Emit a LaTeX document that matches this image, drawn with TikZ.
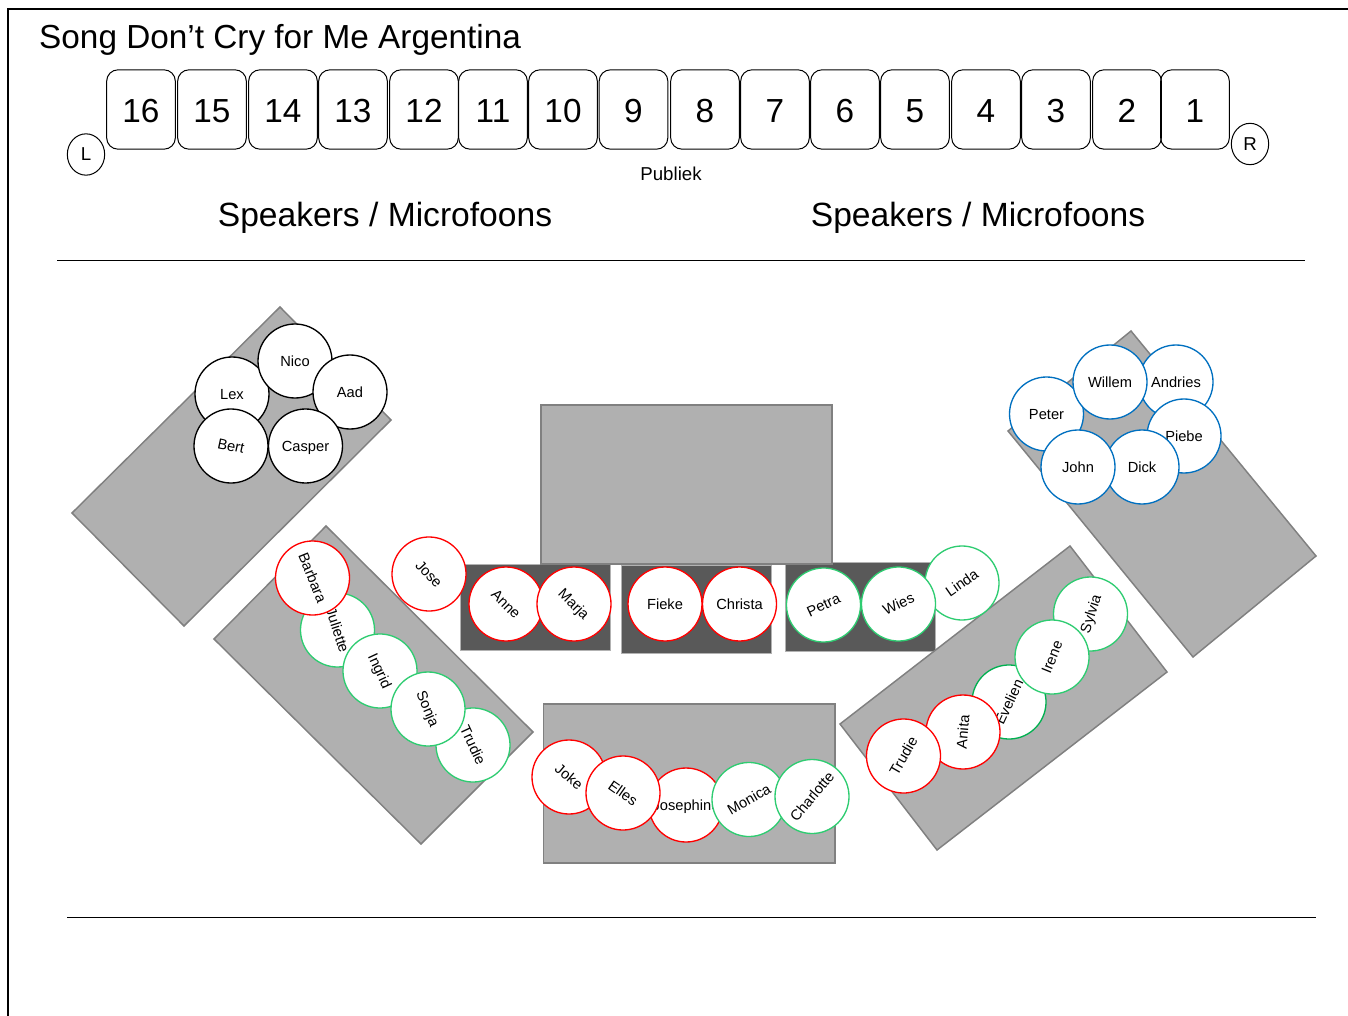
\documentclass[tikz,border=0pt]{standalone}
\usepackage{fontspec}
\setmainfont{Liberation Sans}
\usetikzlibrary{shapes.geometric}
\begin{document}
\begin{tikzpicture}[
  x=0.75pt, y=-0.75pt,
  chair/.style={draw, rounded corners=8.5pt, minimum width=51.5pt, minimum height=59.5pt, inner sep=0pt, line width=0.75pt, text height=19.4pt, text depth=0pt, font=\fontsize{25}{30}\selectfont},
  side/.style={draw, ellipse, minimum width=28pt, minimum height=31pt, inner sep=0pt, line width=0.75pt, font=\fontsize{14}{16}\selectfont},
  big/.style={font=\fontsize{25.2}{30}\selectfont},
  block/.style={draw=black!50, fill=black!31, line width=1.1pt},
  riser/.style={draw=black!30, fill=black!65, line width=0.6pt},
  singer/.style={draw, circle, fill=white, minimum size=55.5pt, inner sep=0pt, line width=1pt, text height=9.9pt, text depth=2.3pt, font=\fontsize{11}{13}\selectfont},
  bass/.style={singer, draw=black},
  tenor/.style={singer, draw=blueline},
  sopr/.style={singer, draw=red},
  alto/.style={singer, draw=greenline},
  alto2/.style={singer, draw=darkgreen}]
\definecolor{blueline}{HTML}{0070C0}
\definecolor{greenline}{HTML}{2ECC71}
\definecolor{darkgreen}{HTML}{00B050}
\useasboundingbox (0,0) rectangle (1348,1016);
\draw[line width=1.1pt] (8,1016) -- (8,9) -- (1348,9);
\node[anchor=west, font=\fontsize{25}{30}\selectfont] (title) at (34.5,40) {Song Don’t Cry for Me Argentina};
\foreach \n/\x in {16/141,15/212,14/283,13/353,12/424,11/493,10/563,9/633.5,8/705,7/775,6/845,5/915,4/986,3/1056,2/1127,1/1195}
  \node[chair] (seat\n) at (\x,109.5) {\n};
\node[side] (left) at (86,154.5) {L};
\node[side] (right) at (1250,144) {R};
\node[font=\fontsize{14}{16}\selectfont] (pub) at (671,174) {Publiek};
\node[big] (spkl) at (385,218) {Speakers / Microfoons};
\node[big] (spkr) at (978,218) {Speakers / Microfoons};
\draw[line width=0.7pt] (57,260) -- (1305,260);
\draw[line width=0.7pt] (67,917) -- (1316,917);
% risers
\draw[riser] (460.5,564) rectangle (610.5,650);
\draw[riser] (621,565) rectangle (771.5,653);
\draw[riser] (785,562) rectangle (935,651);
\draw[block] (280,307) -- (391,420) -- (184,626) -- (72,513) -- cycle;
\draw[block] (326,526) -- (533,732) -- (421,844) -- (214,639) -- cycle;
\draw[block] (541,405) rectangle (832,564);
\draw[block] (543.5,704) rectangle (835,863);
\draw[block] (1070,546) -- (1167,672) -- (937,850) -- (840,724) -- cycle;
\draw[block] (1131,331) -- (1316,556) -- (1193,657) -- (1008,431) -- cycle;
% back left
\node[bass] (lex) at (232,394) {Lex};
\node[bass] (nico) at (295,361) {Nico};
\node[bass] (aad) at (350,392) {Aad};
\node[bass, rotate=-12] (bert) at (231,446) {Bert};
\node[bass] (casper) at (305.5,446) {Casper};
% back right
\node[tenor] (andries) at (1176,382) {Andries};
\node[tenor] (peter) at (1046.5,414) {Peter};
\node[tenor] (willem) at (1110,382) {Willem};
\node[tenor] (piebe) at (1184,436) {Piebe};
\node[tenor] (dick) at (1142,467) {Dick};
\node[tenor] (john) at (1078,467) {John};
% left
\node[alto, rotate=-65] (trudieg) at (473,745) {Trudie};
\node[alto, rotate=-72] (juliette) at (337.5,630) {Juliette};
\node[alto, rotate=-65] (ingrid) at (380,671) {Ingrid};
\node[alto, rotate=-67] (sonja) at (428,709) {Sonja};
\node[sopr, rotate=-68] (barbara) at (312.5,578) {Barbara};
% front row
\node[sopr, rotate=-47] (jose) at (429,574) {Jose};
\node[sopr, rotate=-45] (anne) at (506,604) {Anne};
\node[sopr, rotate=-45] (marja) at (574,604) {Marja};
\node[sopr] (fieke) at (665,604) {Fieke};
\node[sopr] (christa) at (739.5,604) {Christa};
\node[alto, rotate=35] (linda) at (962,583) {Linda};
\node[alto, rotate=25] (petra) at (823.5,605) {Petra};
\node[alto, rotate=25] (wies) at (898.5,604) {Wies};
% bottom
\node[sopr, rotate=-40] (joke) at (569,777) {Joke};
\node[sopr] (josephine) at (686,805) {Josephine};
\node[sopr, rotate=-35] (elles) at (623,793) {Elles};
\node[alto, rotate=30] (monica) at (749,799.5) {Monica};
\node[alto, rotate=50] (charlotte) at (812,796.5) {Charlotte};
% right
\node[alto, rotate=72] (sylvia) at (1090.5,614) {Sylvia};
\node[alto2, rotate=65] (evelien) at (1009,702) {Evelien};
\node[alto, rotate=68] (irene) at (1052,657) {Irene};
\node[sopr, rotate=85] (anita) at (963,732) {Anita};
\node[sopr, rotate=60] (trudier) at (903.5,756) {Trudie};
\end{tikzpicture}
\end{document}
